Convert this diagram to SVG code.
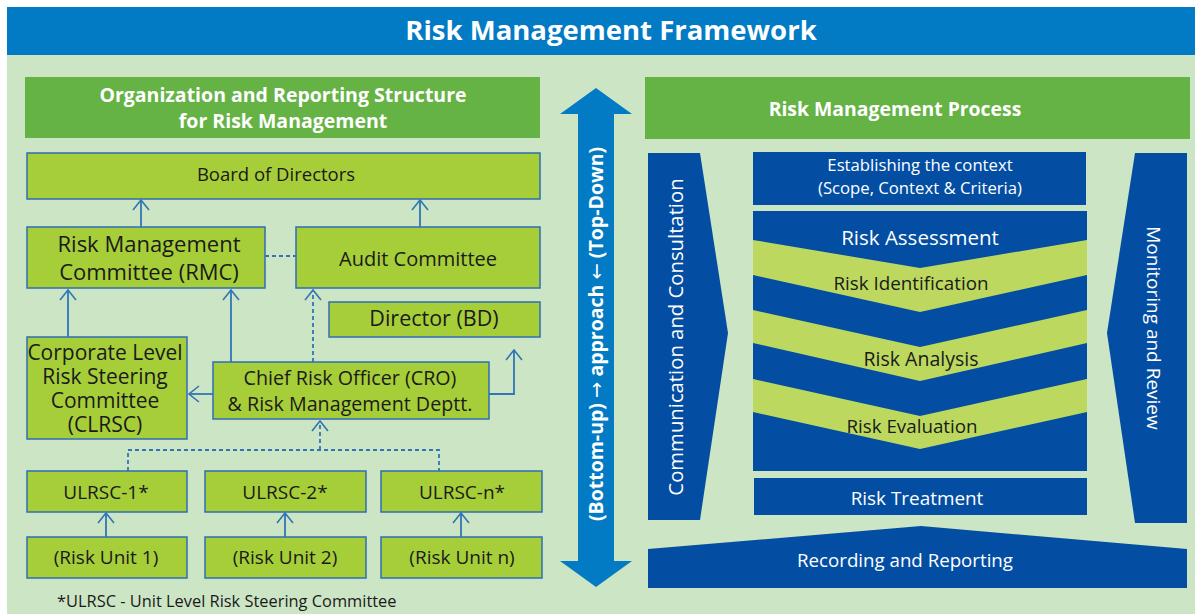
<svg xmlns="http://www.w3.org/2000/svg" width="1195" height="614" viewBox="0 0 1195 614">
<defs>
<style>
.bg{fill:#CCE5C4}
.tb{fill:#027BC4}
.hdr{fill:#65B345}
.box{fill:#A6CE39;stroke:#2F6EB5;stroke-width:1.5}
.dk{fill:#034EA2}
.band{fill:#BCD85F}
.f{font-family:"Open Sans","Noto Sans","DejaVu Sans",sans-serif}
.b{font-weight:700;fill:#fff;text-anchor:middle}
.t{fill:#1a1a1a;text-anchor:middle}
.w{fill:#fff;text-anchor:middle}
.c{fill:none;stroke:#2F75B7;stroke-width:1.8}
.d{stroke-dasharray:4 3}
.ar{font-family:"DejaVu Sans",sans-serif;font-weight:400}
</style>
<marker id="ah" viewBox="-11 -9 12 18" refX="0" refY="0" markerWidth="12" markerHeight="18" markerUnits="userSpaceOnUse" orient="auto">
<path d="M-10,-8 L0,0 L-10,8" fill="none" stroke="#2F75B7" stroke-width="1.6"/>
</marker>
</defs>
<rect x="7" y="55" width="1188" height="559" class="bg"/>
<g id="title">
<rect x="7" y="7" width="1188" height="48" class="tb"/>
<text x="611" y="40" class="f b" font-size="27.5">Risk Management Framework</text>
</g>
<g id="org-header">
<rect x="25" y="77" width="515" height="61" class="hdr"/>
<text x="283" y="102" class="f b" font-size="19.5">Organization and Reporting Structure</text>
<text x="283" y="128" class="f b" font-size="19.5">for Risk Management</text>
</g>
<g id="board"><rect x="27" y="153" width="513" height="46" class="box"/><text x="276" y="181" class="f t" font-size="18.5">Board of Directors</text></g>
<g id="rmc"><rect x="27" y="227" width="238" height="61" class="box"/><text x="149" y="252" class="f t" font-size="22">Risk Management</text><text x="149" y="280" class="f t" font-size="22">Committee (RMC)</text></g>
<g id="audit"><rect x="296" y="227" width="244" height="61" class="box"/><text x="418" y="266" class="f t" font-size="20">Audit Committee</text></g>
<g id="director"><rect x="329" y="302" width="211" height="35" class="box"/><text x="434" y="326" class="f t" font-size="21.5">Director (BD)</text></g>
<g id="clrsc"><rect x="27" y="337" width="160" height="102" class="box"/>
<text x="105" y="360" class="f t" font-size="21">Corporate Level</text>
<text x="105" y="384" class="f t" font-size="21">Risk Steering</text>
<text x="105" y="408" class="f t" font-size="21">Committee</text>
<text x="105" y="432" class="f t" font-size="21">(CLRSC)</text></g>
<g id="cro"><rect x="213" y="362" width="276" height="57" class="box"/>
<text x="350" y="385" class="f t" font-size="19.7">Chief Risk Officer (CRO)</text>
<text x="350" y="411" class="f t" font-size="19.7">&amp; Risk Management Deptt.</text></g>
<g id="ulrsc1"><rect x="27" y="471" width="160" height="41" class="box"/><text x="106" y="499" class="f t" font-size="19">ULRSC-1*</text></g>
<g id="ulrsc2"><rect x="205" y="471" width="161" height="41" class="box"/><text x="285" y="499" class="f t" font-size="19">ULRSC-2*</text></g>
<g id="ulrscn"><rect x="381" y="471" width="161" height="41" class="box"/><text x="462" y="499" class="f t" font-size="19">ULRSC-n*</text></g>
<g id="unit1"><rect x="27" y="537" width="160" height="41" class="box"/><text x="106" y="564" class="f t" font-size="19">(Risk Unit 1)</text></g>
<g id="unit2"><rect x="205" y="537" width="161" height="41" class="box"/><text x="285" y="564" class="f t" font-size="19">(Risk Unit 2)</text></g>
<g id="unitn"><rect x="381" y="537" width="161" height="41" class="box"/><text x="462" y="564" class="f t" font-size="19">(Risk Unit n)</text></g>
<g id="connectors">
<path class="c" d="M141,227 L141,200" marker-end="url(#ah)"/>
<path class="c" d="M420,227 L420,200" marker-end="url(#ah)"/>
<path class="c d" d="M265,256 L296,256"/>
<path class="c" d="M68,337 L68,290" marker-end="url(#ah)"/>
<path class="c" d="M231,362 L231,290" marker-end="url(#ah)"/>
<path class="c d" d="M313,362 L313,290" marker-end="url(#ah)"/>
<path class="c" d="M213,394 L189,394" marker-end="url(#ah)"/>
<path class="c" d="M489,394 L514,394 L514,350" marker-end="url(#ah)"/>
<path class="c d" d="M128,471 L128,450 L439,450 L439,471"/>
<path class="c d" d="M320,450 L320,421" marker-end="url(#ah)"/>
<path class="c" d="M106,537 L106,513" marker-end="url(#ah)"/>
<path class="c" d="M285,537 L285,513" marker-end="url(#ah)"/>
<path class="c" d="M461,537 L461,513" marker-end="url(#ah)"/>
</g>
<text x="57" y="607" class="f" font-size="16.4" fill="#1a1a1a">*ULRSC - Unit Level Risk Steering Committee</text>
<g id="approach">
<polygon class="tb" points="596,88 632,114 614,114 614,561 632,561 596,587 560,561 578,561 578,114 560,114"/>
<text transform="translate(603,334) rotate(-90)" class="f b" font-size="19.5">(Bottom-up) <tspan class="ar">→</tspan> approach <tspan class="ar">←</tspan> (Top-Down)</text>
</g>
<g id="process-header">
<rect x="645" y="77" width="545" height="62" class="hdr"/>
<text x="895" y="116" class="f b" font-size="19.4">Risk Management Process</text>
</g>
<g id="communication">
<polygon class="dk" points="648,153 700,153 728,333 700,520 648,520"/>
<text transform="translate(683,337) rotate(-90)" class="f w" font-size="20.3">Communication and Consultation</text>
</g>
<g id="monitoring">
<polygon class="dk" points="1135,153 1187,153 1187,523 1135,523 1107,333"/>
<text transform="translate(1147,328) rotate(90)" class="f w" font-size="19">Monitoring and Review</text>
</g>
<g id="context">
<rect x="753" y="152" width="333" height="53" class="dk"/>
<text x="920" y="171" class="f w" font-size="16.7">Establishing the context</text>
<text x="920" y="194" class="f w" font-size="16.7">(Scope, Context &amp; Criteria)</text>
</g>
<g id="assessment">
<rect x="753" y="211" width="334" height="260" class="dk"/>
<polygon class="band" points="753,240 920,268 1087,240 1087,275 920,312 753,275"/>
<polygon class="band" points="753,310 920,347 1087,310 1087,343 920,381 753,343"/>
<polygon class="band" points="753,379 920,416 1087,379 1087,412 920,449 753,412"/>
<text x="920" y="245" class="f w" font-size="20.5">Risk Assessment</text>
<text x="911" y="290" class="f t" font-size="18.8" fill="#111">Risk Identification</text>
<text x="921" y="366" class="f t" font-size="19.5" fill="#111">Risk Analysis</text>
<text x="912" y="433" class="f t" font-size="18.8" fill="#111">Risk Evaluation</text>
</g>
<g id="treatment">
<rect x="754" y="478" width="333" height="37" class="dk"/>
<text x="917" y="505" class="f w" font-size="18.9">Risk Treatment</text>
</g>
<g id="recording">
<polygon class="dk" points="648,549 921,526 1187,549 1187,588 648,588"/>
<text x="905" y="567" class="f w" font-size="18.7">Recording and Reporting</text>
</g>
</svg>
